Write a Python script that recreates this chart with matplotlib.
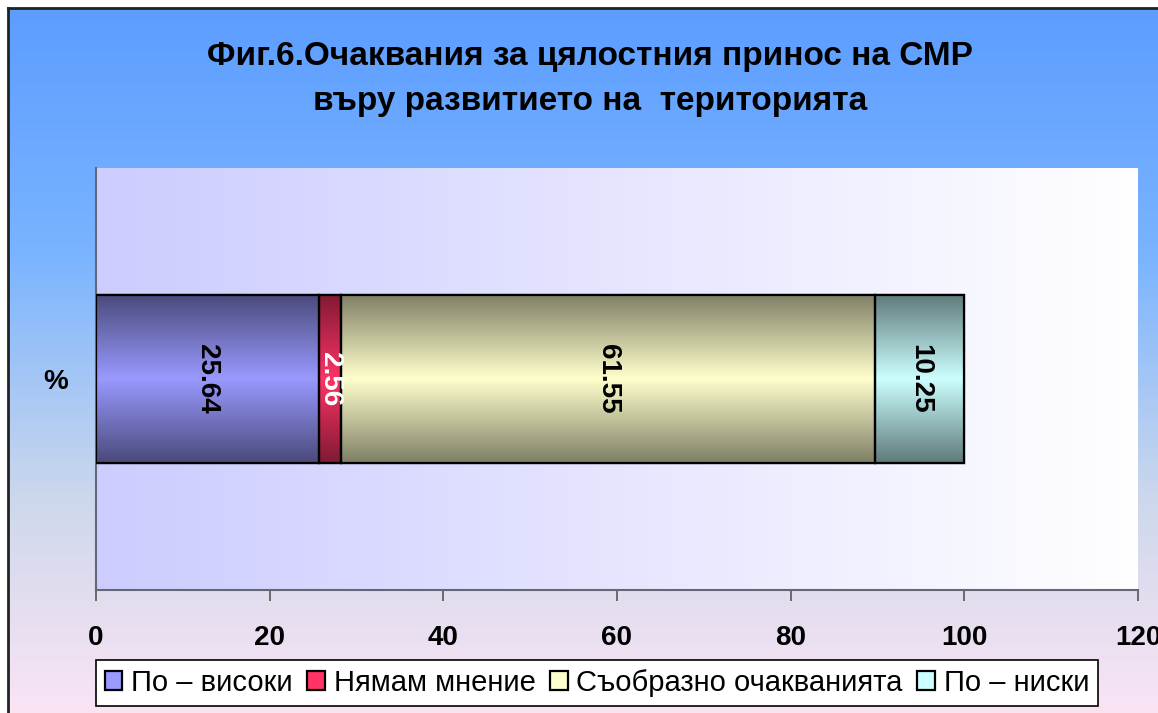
import numpy as np
import matplotlib.pyplot as plt
from matplotlib.colors import to_rgb

plt.rcParams['font.family'] = ['Liberation Sans', 'DejaVu Sans']

categories = ['По – високи', 'Нямам мнение', 'Съобразно очакванията', 'По – ниски']
values = [25.64, 2.56, 61.55, 10.25]
row_label = ['%']
mid_colors = ['#9999ff', '#ff3366', '#ffffcc', '#ccffff']
edge_colors = ['#4a4a7c', '#801a33', '#7f7f66', '#5f7a7a']
label_colors = ['black', 'white', 'black', 'black']
title = 'Фиг.6.Очаквания за цялостния принос на СМР\nвъру развитието на  територията'

W, H = 1158, 713
fig = plt.figure(figsize=(W / 100, H / 100), dpi=100)
fig.patch.set_facecolor('white')

# figure background: vertical gradient blue -> pink, framed at left/top
bg = fig.add_axes([8 / W, 0, 1 - 8 / W, 1 - 8 / H])
stops = np.array([[0.0, *to_rgb('#5c9dff')],
                  [0.35, *to_rgb('#7ab4ff')],
                  [0.70, *to_rgb('#cdd8ec')],
                  [1.0, *to_rgb('#fae4f4')]])
t = np.linspace(0, 1, 400)
grad = np.stack([np.interp(t, stops[:, 0], stops[:, i]) for i in (1, 2, 3)], axis=-1)
bg.imshow(grad[:, None, :], aspect='auto', extent=(0, 1, 0, 1))
bg.set_xlim(0, 1)
bg.set_ylim(0, 1)
bg.set_xticks([])
bg.set_yticks([])
for s in ['right', 'bottom']:
    bg.spines[s].set_visible(False)
for s in ['left', 'top']:
    bg.spines[s].set_linewidth(2)
    bg.spines[s].set_color('#222222')
bg.set_zorder(0)

ax = fig.add_axes([96 / W, 1 - 590 / H, (1138 - 96) / W, (590 - 168) / H])
ax.set_zorder(1)
ax.set_facecolor('none')

# plot area: horizontal gradient lavender -> white
pa = np.linspace(0, 1, 300)
c0, c1 = np.array(to_rgb('#ccccff')), np.array(to_rgb('#ffffff'))
pgrad = c0[None, :] * (1 - pa[:, None]) + c1[None, :] * pa[:, None]
ax.imshow(pgrad[None, :, :], aspect='auto', extent=(0, 120, -0.5, 0.5), zorder=0)

left = 0
bars = []
for i, v in enumerate(values):
    b = ax.barh(row_label, v, left=left, height=0.4, color=mid_colors[i],
                edgecolor='black', linewidth=1.6, label=categories[i], zorder=2)
    bars.append(b)
    left += v

# vertical "dark edge" gradient inside each bar
prof = np.linspace(0, 1, 200)
shape = 1 - np.abs(2 * prof - 1)
for i, b in enumerate(bars):
    p = b.patches[0]
    m, e = np.array(to_rgb(mid_colors[i])), np.array(to_rgb(edge_colors[i]))
    g = e[None, :] + (m - e)[None, :] * shape[:, None]
    x0, y0, w, h = p.get_x(), p.get_y(), p.get_width(), p.get_height()
    im = ax.imshow(g[:, None, :], aspect='auto', extent=(x0, x0 + w, y0, y0 + h), zorder=2.5)
    im.set_clip_path(p)
    ax.add_patch(plt.Rectangle((x0, y0), w, h, fill=False, edgecolor='black',
                               linewidth=1.6, zorder=3))
    ax.text(x0 + w / 2, y0 + h / 2, f'{values[i]:.2f}', rotation=270,
            ha='center', va='center', fontsize=20, fontweight='bold',
            color=label_colors[i], zorder=4)

ax.set_xlim(0, 120)
ax.set_ylim(-0.5, 0.5)
ax.set_xticks(np.arange(0, 121, 20))
ax.tick_params(axis='x', direction='out', length=8, width=1.2, color='#555555',
               labelsize=20, pad=17)
ax.tick_params(axis='y', length=0, labelsize=20, pad=20)
for lab in ax.get_xticklabels() + ax.get_yticklabels():
    lab.set_fontweight('bold')
for s in ['top', 'right']:
    ax.spines[s].set_visible(False)
for s in ['left', 'bottom']:
    ax.spines[s].set_color('#666677')
    ax.spines[s].set_linewidth(1.5)

fig.text(590 / W, 1 - 79 / H, title, ha='center', va='center', fontsize=24,
         fontweight='bold', linespacing=1.6)

leg = fig.legend(handles=[b.patches[0] for b in bars], labels=categories,
                 loc='center', bbox_to_anchor=(597 / W, 1 - 683 / H), ncol=4,
                 fontsize=21, frameon=True, fancybox=False, handlelength=0.6,
                 handleheight=0.6, handletextpad=0.3, columnspacing=0.5,
                 borderpad=0.3)
leg.get_frame().set_edgecolor('black')
leg.get_frame().set_linewidth(1.2)
leg.get_frame().set_facecolor('white')
leg.get_frame().set_alpha(1)
leg.set_zorder(5)

fig.savefig('out.png', dpi=100)
